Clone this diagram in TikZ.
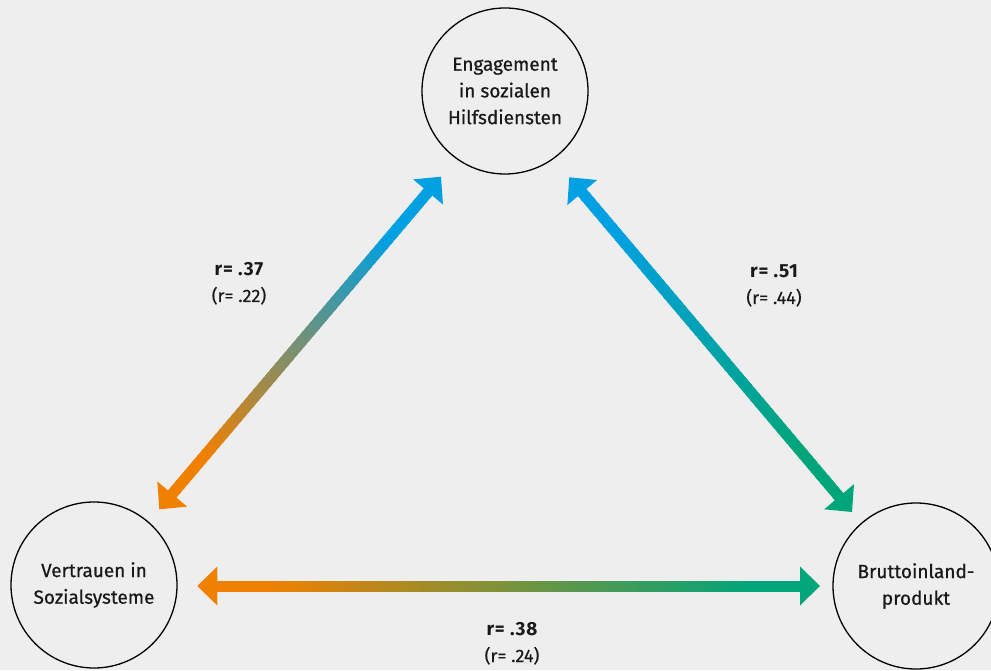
\documentclass[tikz,border=0pt]{standalone}
\usepackage{fontspec}
\setmainfont{Fira Sans}
\newfontfamily\topicfont{Fira Sans}[FakeBold=0.6]
\newfontfamily\coeffont{Fira Sans Bold}[LetterSpace=4]
\newfontfamily\subfont{Fira Sans}[FakeBold=0.3]
\usetikzlibrary{positioning}
\usetikzlibrary{calc}
\definecolor{bgray}{HTML}{EEEEEE}
\definecolor{vorange}{HTML}{F08000}
\definecolor{vblue}{HTML}{00A0E3}
\definecolor{vgreen}{HTML}{00A57A}
\tikzset{basic/.style={draw,line width=1.3pt,text=black!90,align=center}}
\tikzset{topic/.style={basic,circle,minimum size=166pt,inner sep=0pt,font=\fontsize{19}{26.7}\topicfont}}
\tikzset{coef/.style={font=\fontsize{19}{20}\coeffont,text=black!90,text height=13pt,text depth=4pt,inner sep=0pt}}
\tikzset{coefsub/.style={coef,font=\fontsize{18}{20}\subfont}}
\tikzset{shaft/.style={line width=11pt}}

\begin{document}
\begin{tikzpicture}[x=1pt,y=1pt,node distance=26.5pt]
        \fill[bgray] (0,0) rectangle (991,670);
        \useasboundingbox (0,0) rectangle (991,670);
        % the three circles
        \node[topic] (eng) at (505,579) {Engagement\\in sozialen\\Hilfsdiensten};
        \node[topic] (vert) at (94,85) {Vertrauen in\\Sozialsysteme};
        \node[topic] (bip) at (916,84) {Bruttoinland-\\produkt};
        % arrow tips
        \coordinate (lb) at (159.3,160.7);
        \coordinate (lt) at (441,493.3);
        \coordinate (rt) at (569.3,492.7);
        \coordinate (rb) at (852,158);
        \coordinate (bl) at (197.3,84);
        \coordinate (br) at (820,84);
        % left arrow: orange -> blue
        \coordinate (lb0) at ($(lb)!17pt!(lt)$);
        \coordinate (lt0) at ($(lt)!17pt!(lb)$);
        \foreach \i in {0,...,59}{
            \pgfmathsetmacro\ta{\i/60}
            \pgfmathsetmacro\tb{min(1,(\i+1.6)/60)}
            \pgfmathtruncatemacro\mix{max(0,min(100,100*(\i/59-0.12)/0.72))}
            \draw[shaft,vblue!\mix!vorange] ($(lb0)!\ta!(lt0)$) -- ($(lb0)!\tb!(lt0)$);
        }
        \coordinate (lbh) at ($(lb)!20pt!(lt)$);
        \fill[vorange] (lb) -- ($(lbh)!19.5pt!90:(lt)$) -- ($(lbh)!19.5pt!-90:(lt)$) -- cycle;
        \coordinate (lth) at ($(lt)!20pt!(lb)$);
        \fill[vblue] (lt) -- ($(lth)!19.5pt!90:(lb)$) -- ($(lth)!19.5pt!-90:(lb)$) -- cycle;
        % right arrow: blue -> green
        \coordinate (rt0) at ($(rt)!17pt!(rb)$);
        \coordinate (rb0) at ($(rb)!17pt!(rt)$);
        \foreach \i in {0,...,59}{
            \pgfmathsetmacro\ta{\i/60}
            \pgfmathsetmacro\tb{min(1,(\i+1.6)/60)}
            \pgfmathtruncatemacro\mix{max(0,min(100,100*(\i/59-0.12)/0.72))}
            \draw[shaft,vgreen!\mix!vblue] ($(rt0)!\ta!(rb0)$) -- ($(rt0)!\tb!(rb0)$);
        }
        \coordinate (rth) at ($(rt)!20pt!(rb)$);
        \fill[vblue] (rt) -- ($(rth)!19.5pt!90:(rb)$) -- ($(rth)!19.5pt!-90:(rb)$) -- cycle;
        \coordinate (rbh) at ($(rb)!20pt!(rt)$);
        \fill[vgreen] (rb) -- ($(rbh)!19.5pt!90:(rt)$) -- ($(rbh)!19.5pt!-90:(rt)$) -- cycle;
        % bottom arrow: orange -> green
        \coordinate (bl0) at ($(bl)!17pt!(br)$);
        \coordinate (br0) at ($(br)!17pt!(bl)$);
        \foreach \i in {0,...,59}{
            \pgfmathsetmacro\ta{\i/60}
            \pgfmathsetmacro\tb{min(1,(\i+1.6)/60)}
            \pgfmathtruncatemacro\mix{max(0,min(100,100*(\i/59-0.08)/0.84))}
            \draw[shaft,vgreen!\mix!vorange] ($(bl0)!\ta!(br0)$) -- ($(bl0)!\tb!(br0)$);
        }
        \coordinate (blh) at ($(bl)!20pt!(br)$);
        \fill[vorange] (bl) -- ($(blh)!19.5pt!90:(br)$) -- ($(blh)!19.5pt!-90:(br)$) -- cycle;
        \coordinate (brh) at ($(br)!20pt!(bl)$);
        \fill[vgreen] (br) -- ($(brh)!19.5pt!90:(bl)$) -- ($(brh)!19.5pt!-90:(bl)$) -- cycle;
        % correlations
        \node[coef] (c37) at (239,399) {r= .37};
        \node[coefsub,below of=c37] (c22) {(r= .22)};
        \node[coef] (c51) at (774,397) {r= .51};
        \node[coefsub,below of=c51] (c44) {(r= .44)};
        \node[coef] (c38) at (512,39) {r= .38};
        \node[coefsub,below of=c38] (c24) {(r= .24)};
\end{tikzpicture}
\end{document}
